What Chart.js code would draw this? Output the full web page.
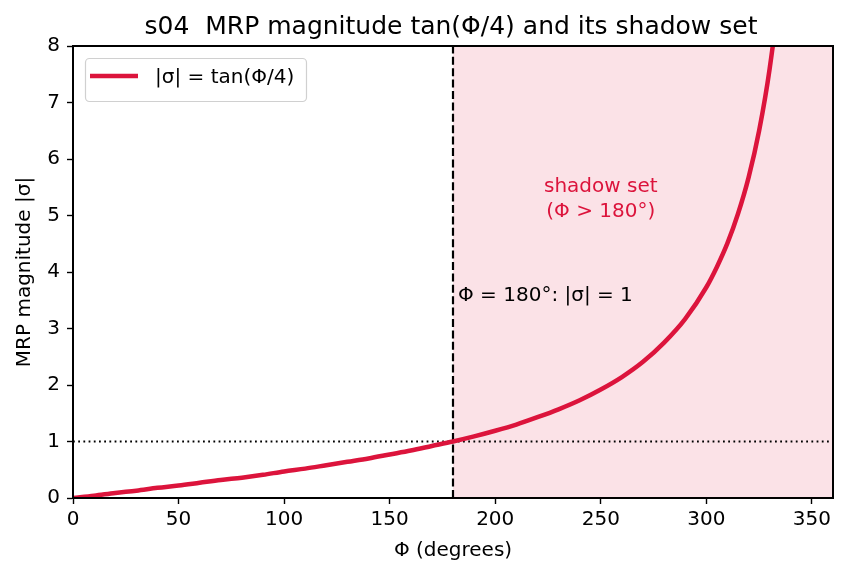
<!DOCTYPE html>
<html><head><meta charset="utf-8">
<script src="https://cdn.jsdelivr.net/npm/chart.js@4.4.1/dist/chart.umd.min.js"></script>
<style>html,body{margin:0;padding:0;background:#fff}#wrap{width:848px;height:579px}</style>
</head><body><div id="wrap"><canvas id="c" width="848" height="579"></canvas></div>
<script>
const titleText = 's04  MRP magnitude tan(Φ/4) and its shadow set';
const xLabel = 'Φ (degrees)';
const yLabel = 'MRP magnitude |σ|';
const seriesLabel = '|σ| = tan(Φ/4)';
const phiDeg = [0,10,20,30,40,50,60,70,80,90,100,110,120,130,140,150,160,170,180,190,200,210,220,230,240,250,260,270,280,290,300,305,310,315,320,325,330,335,340];
const sigmaMag = [0,0.04,0.09,0.13,0.18,0.22,0.27,0.32,0.36,0.41,0.47,0.52,0.58,0.64,0.70,0.77,0.84,0.92,1.00,1.09,1.19,1.30,1.43,1.57,1.73,1.92,2.14,2.41,2.75,3.17,3.73,4.09,4.51,5.03,5.67,6.50,7.60,9.13,11.43];
const xTicks = [0,50,100,150,200,250,300,350];
const yTicks = [0,1,2,3,4,5,6,7,8];
const shadowStart = 180, xMax = 360, yMax = 8, refLevel = 1;
const crimson = '#DC143C';
const FONT = 'DejaVu Sans';
const FS = 20;

const overlay = {
  id:'overlay',
  beforeDatasetsDraw(chart){
    const {ctx, chartArea:a, scales:{x,y}} = chart;
    ctx.save();
    const xs = x.getPixelForValue(shadowStart), xe = x.getPixelForValue(xMax);
    ctx.fillStyle = 'rgba(220,20,60,0.12)';
    ctx.fillRect(xs, a.top, xe-xs, a.bottom-a.top);
    ctx.strokeStyle = '#000'; ctx.lineWidth = 1.8;
    ctx.setLineDash([1.8,3.4]);
    const y1 = y.getPixelForValue(refLevel);
    ctx.beginPath(); ctx.moveTo(a.left,y1); ctx.lineTo(a.right,y1); ctx.stroke();
    ctx.setLineDash([8,3.4]); ctx.lineWidth = 2.2;
    ctx.beginPath(); ctx.moveTo(xs,a.bottom); ctx.lineTo(xs,a.top); ctx.stroke();
    ctx.setLineDash([]);
    ctx.font = FS+'px "'+FONT+'"';
    ctx.fillStyle = crimson; ctx.textAlign='center'; ctx.textBaseline='middle';
    const cx = x.getPixelForValue(250);
    ctx.fillText('shadow set', cx, y.getPixelForValue(5.5));
    ctx.fillText('(Φ > 180°)', cx, y.getPixelForValue(5.07));
    ctx.fillStyle = '#000'; ctx.textAlign='left';
    ctx.fillText('Φ = 180°: |σ| = 1', xs+5, y.getPixelForValue(3.57));
    ctx.restore();
  },
  afterDraw(chart){
    const {ctx, chartArea:a} = chart;
    ctx.save();
    ctx.strokeStyle='#000'; ctx.lineWidth=2;
    ctx.strokeRect(a.left, a.top, a.right-a.left, a.bottom-a.top);
    ctx.font = '25px "'+FONT+'"'; ctx.fillStyle='#000'; ctx.textAlign='center'; ctx.textBaseline='middle';
    ctx.fillText(titleText, (a.left+a.right)/2 - 2, 27);
    const lx = 85, ly = 58, lw = 221, lh = 43;
    ctx.fillStyle='rgba(255,255,255,0.8)'; ctx.strokeStyle='#d0d0d0'; ctx.lineWidth=1.2;
    ctx.beginPath();
    if (ctx.roundRect) ctx.roundRect(lx+0.5, ly+0.5, lw, lh, 4); else ctx.rect(lx+0.5,ly+0.5,lw,lh);
    ctx.fill(); ctx.stroke();
    ctx.strokeStyle=crimson; ctx.lineWidth=4.5;
    ctx.beginPath(); ctx.moveTo(lx+5, 76); ctx.lineTo(lx+53, 76); ctx.stroke();
    ctx.fillStyle='#000'; ctx.font=FS+'px "'+FONT+'"'; ctx.textAlign='left';
    ctx.fillText(seriesLabel, lx+70, 78);
    ctx.restore();
  }
};

new Chart(document.getElementById('c'), {
  type:'line',
  data:{ datasets:[{
    label: seriesLabel,
    data: phiDeg.map((p,i)=>({x:p, y:sigmaMag[i]})),
    borderColor: crimson, borderWidth: 4.5, pointRadius: 0,
    cubicInterpolationMode: 'monotone', fill:false
  }]},
  options:{
    responsive:false, animation:false,
    layout:{padding:{top:46, right:15, left:0, bottom:0}},
    plugins:{legend:{display:false}, title:{display:false}, tooltip:{enabled:false}},
    scales:{
      x:{type:'linear', min:0, max:xMax,
        afterFit(s){ s.height = 81; },
        afterBuildTicks(s){ s.ticks = xTicks.map(v=>({value:v})); },
        grid:{display:true, drawOnChartArea:false, drawTicks:true, tickLength:6, color:'#000', tickWidth:1.4},
        border:{display:true, color:'#000', width:2},
        ticks:{color:'#000', font:{family:FONT, size:FS}, padding:4, maxRotation:0},
        title:{display:true, text:xLabel, color:'#000', font:{family:FONT, size:FS}, padding:{top:4, bottom:16}}
      },
      y:{type:'linear', min:0, max:yMax,
        afterFit(s){ s.width = 73; },
        afterBuildTicks(s){ s.ticks = yTicks.map(v=>({value:v})); },
        grid:{display:true, drawOnChartArea:false, drawTicks:true, tickLength:6, color:'#000', tickWidth:1.4},
        border:{display:true, color:'#000', width:2},
        ticks:{color:'#000', font:{family:FONT, size:FS}, padding:7},
        title:{display:true, text:yLabel, color:'#000', font:{family:FONT, size:FS}, padding:{top:13, bottom:4}}
      }
    }
  },
  plugins:[overlay]
});
</script></body></html>
